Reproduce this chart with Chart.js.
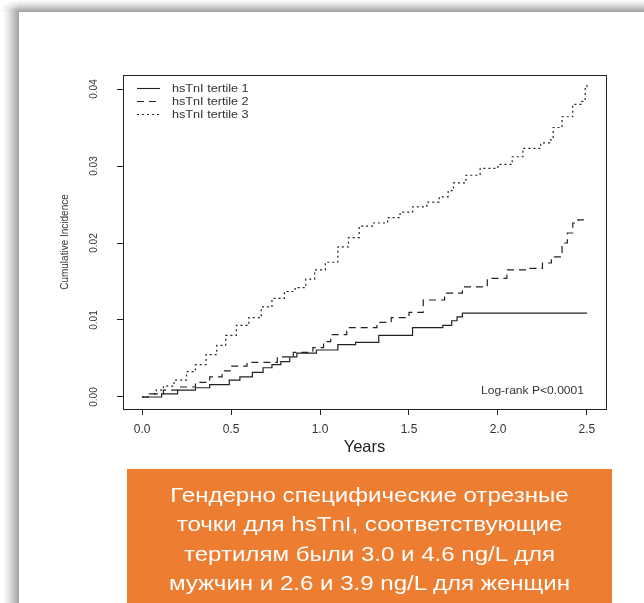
<!DOCTYPE html>
<html>
<head>
<meta charset="utf-8">
<script src="https://cdn.jsdelivr.net/npm/chart.js@4/dist/chart.umd.min.js"></script>
<style>
  html, body { margin: 0; padding: 0; background: #fff; overflow: hidden; }
  body { width: 644px; height: 603px; position: relative; font-family: "Liberation Sans", Arial, sans-serif; }
  #shadowTop { position: absolute; left: 19px; top: 0; width: 625px; height: 12px;
               background: linear-gradient(to bottom, #fff 0%, #e2e2e2 40%, #b5b5b5 80%, #a0a0a0 100%); }
  #shadowLeft { position: absolute; left: 0; top: 12px; width: 19px; height: 591px;
                background: linear-gradient(to right, #fff 0%, #fff 15%, #e2e2e2 50%, #b5b5b5 85%, #a0a0a0 100%); }
  #shadowCorner { position: absolute; left: 0; top: 0; width: 19px; height: 12px;
                  background: radial-gradient(ellipse 19px 12px at 100% 100%, #a0a0a0 0%, #b5b5b5 20%, #e2e2e2 55%, #fff 100%); }
  #wrap { position: absolute; left: 0; top: 0; width: 644px; height: 470px; }
  #note { position: absolute; left: 127px; top: 469px; width: 485px; height: 140px; background: #ED7D31;
          color: #fff; font-size: 21px; line-height: 29.3px; text-align: center; padding-top: 11px; box-sizing: border-box; }
  #note div { transform: scaleX(1.146); transform-origin: 50% 50%; white-space: nowrap; }
</style>
</head>
<body>
<div id="shadowTop"></div>
<div id="shadowLeft"></div>
<div id="shadowCorner"></div>
<div id="wrap"><canvas id="kmChart" width="644" height="470"></canvas></div>
<div id="note"><div>Гендерно специфические отрезные<br>точки для hsTnI, соответствующие<br>тертилям были 3.0 и 4.6 ng/L для<br>мужчин и 2.6 и 3.9 ng/L для женщин</div></div>
<script>
// Kaplan-Meier style cumulative incidence by hsTnI tertile
const seriesLabels = ['hsTnI tertile 1', 'hsTnI tertile 2', 'hsTnI tertile 3'];

const tertile1Years = [0, 0.11, 0.2, 0.3, 0.38, 0.49, 0.55, 0.62, 0.68, 0.73, 0.78, 0.83, 0.87, 0.98, 1.1, 1.2, 1.33, 1.52, 1.69, 1.74, 1.77, 1.8, 2.5];
const tertile1Values = [0, 0.0004, 0.0009, 0.0012, 0.0016, 0.0022, 0.0026, 0.0032, 0.0038, 0.0042, 0.0046, 0.0052, 0.0057, 0.0061, 0.0068, 0.0071, 0.008, 0.009, 0.0093, 0.0099, 0.0104, 0.0109, 0.0109];

const tertile2Years = [0, 0.05, 0.12, 0.2, 0.3, 0.38, 0.45, 0.5, 0.59, 0.76, 0.85, 0.96, 1.02, 1.06, 1.15, 1.32, 1.4, 1.5, 1.58, 1.7, 1.8, 1.94, 2.05, 2.16, 2.25, 2.3, 2.36, 2.39, 2.42, 2.45, 2.5];
const tertile2Values = [0, 0.0004, 0.0009, 0.0013, 0.0019, 0.0026, 0.0034, 0.004, 0.0045, 0.0052, 0.0058, 0.0064, 0.0072, 0.0081, 0.009, 0.0097, 0.0103, 0.011, 0.0126, 0.0135, 0.0143, 0.0154, 0.0165, 0.0167, 0.0174, 0.0182, 0.02, 0.0213, 0.0226, 0.023, 0.023];

const tertile3Years = [0, 0.04, 0.08, 0.12, 0.18, 0.25, 0.3, 0.36, 0.42, 0.47, 0.53, 0.6, 0.67, 0.73, 0.8, 0.86, 0.92, 0.97, 1.03, 1.1, 1.16, 1.22, 1.3, 1.38, 1.45, 1.52, 1.6, 1.67, 1.72, 1.75, 1.82, 1.9, 2.0, 2.08, 2.14, 2.24, 2.29, 2.31, 2.36, 2.42, 2.47, 2.49, 2.5];
const tertile3Values = [0, 0.0004, 0.0009, 0.0014, 0.0022, 0.0033, 0.0042, 0.0055, 0.0067, 0.008, 0.0093, 0.0103, 0.0117, 0.0128, 0.0137, 0.0142, 0.0153, 0.0165, 0.0175, 0.0195, 0.0207, 0.0222, 0.0226, 0.0233, 0.024, 0.0247, 0.0253, 0.026, 0.0268, 0.0278, 0.0288, 0.0297, 0.0302, 0.0312, 0.0323, 0.033, 0.0334, 0.035, 0.0364, 0.038, 0.0384, 0.0403, 0.0406];

const xTicks = [0, 0.5, 1.0, 1.5, 2.0, 2.5];
const yTicks = [0, 0.01, 0.02, 0.03, 0.04];
const pValueText = 'Log-rank P<0.0001';

const dashStyles = [[], [7, 5], [2, 3]];
const ink = '#222';
const fontFamily = '"Liberation Sans", Arial, sans-serif';

function toPoints(xs, ys) {
    return xs.map((x, i) => ({ x: x, y: ys[i] }));
}

// text a bit wider, the original slide was stretched sideways
function wideText(ctx, text, x, y, align) {
    const stretch = 1.15;
    const w = ctx.measureText(text).width * stretch;
    const left = align === 'right' ? x - w : x;
    ctx.save();
    ctx.translate(left, y);
    ctx.scale(stretch, 1);
    ctx.textAlign = 'left';
    ctx.fillText(text, 0, 0);
    ctx.restore();
}

// box around plot, legend top-left, p-value bottom-right (like R output)
const boxPlugin = {
    id: 'rbox',
    afterDraw(chart) {
        const { ctx, chartArea: a } = chart;
        ctx.save();
        ctx.strokeStyle = ink;
        ctx.lineWidth = 1;
        ctx.strokeRect(Math.round(a.left) + 0.5, Math.round(a.top) + 0.5, Math.round(a.right - a.left), Math.round(a.bottom - a.top));

        ctx.font = '11px ' + fontFamily;
        ctx.fillStyle = '#333';
        ctx.textBaseline = 'middle';
        chart.data.datasets.forEach((ds, i) => {
            const y = a.top + 13.5 + i * 13;
            ctx.beginPath();
            ctx.setLineDash(ds.borderDash);
            ctx.lineWidth = 1.1;
            ctx.moveTo(a.left + 14, y);
            ctx.lineTo(a.left + 37, y);
            ctx.stroke();
            ctx.setLineDash([]);
            wideText(ctx, ds.label, a.left + 49, y, 'left');
        });

        ctx.font = '10.5px ' + fontFamily;
        wideText(ctx, pValueText, a.right - 22, a.bottom - 18, 'right');
        ctx.restore();
    }
};

const ctx = document.getElementById('kmChart').getContext('2d');
const kmChart = new Chart(ctx, {
    type: 'line',
    data: {
        datasets: [
            { label: seriesLabels[0], data: toPoints(tertile1Years, tertile1Values) },
            { label: seriesLabels[1], data: toPoints(tertile2Years, tertile2Values) },
            { label: seriesLabels[2], data: toPoints(tertile3Years, tertile3Values) }
        ].map((ds, i) => Object.assign(ds, {
            borderColor: ink,
            borderWidth: 1.2,
            borderDash: dashStyles[i],
            stepped: 'before',
            pointRadius: 0,
            fill: false
        }))
    },
    options: {
        responsive: false,
        animation: false,
        layout: { padding: { left: 0, top: 75, right: 38, bottom: 0 } },
        plugins: { legend: { display: false }, tooltip: { enabled: false } },
        scales: {
            x: {
                type: 'linear',
                min: -0.107,
                max: 2.607,
                afterBuildTicks: s => { s.ticks = xTicks.map(v => ({ value: v })); },
                afterFit: s => { s.height = 61; },
                grid: { drawOnChartArea: false, drawTicks: true, tickLength: 6, color: ink },
                border: { display: false },
                ticks: {
                    color: '#333',
                    font: { size: 12, family: fontFamily },
                    padding: 7,
                    maxRotation: 0,
                    callback: v => v.toFixed(1)
                },
                title: {
                    display: true,
                    text: 'Years',
                    color: '#222',
                    font: { size: 16.5, family: fontFamily },
                    padding: { top: 0, bottom: 13 }
                }
            },
            y: {
                type: 'linear',
                min: -0.00156,
                max: 0.04182,
                afterBuildTicks: s => { s.ticks = yTicks.map(v => ({ value: v })); },
                afterFit: s => { s.width = 123; },
                grid: { drawOnChartArea: false, drawTicks: true, tickLength: 6, color: ink },
                border: { display: false },
                ticks: {
                    color: '#333',
                    font: { size: 10, family: fontFamily },
                    padding: 13,
                    minRotation: 90,
                    maxRotation: 90,
                    crossAlign: 'center',
                    callback: v => v.toFixed(2)
                },
                title: {
                    display: true,
                    text: 'Cumulative Incidence',
                    color: '#333',
                    font: { size: 10, family: fontFamily },
                    padding: { top: 59, bottom: 0 }
                }
            }
        }
    },
    plugins: [boxPlugin]
});
</script>
</body>
</html>
